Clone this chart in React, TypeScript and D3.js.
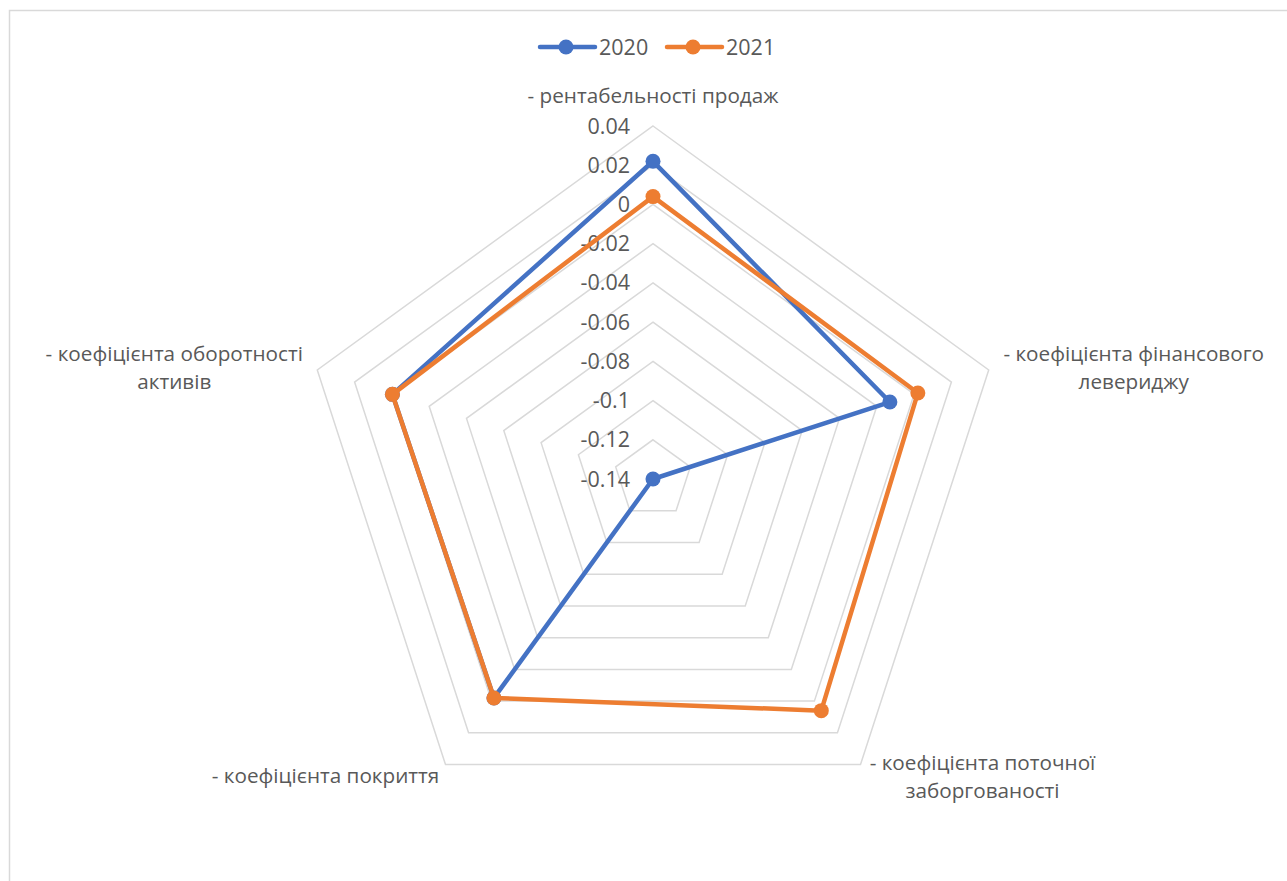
import React from "react";
import * as d3 from "d3";

// Axis categories (each may wrap onto two lines)
const categories: string[][] = [
  ["- рентабельності продаж"],
  ["- коефіцієнта фінансового", "левериджу"],
  ["- коефіцієнта поточної", "заборгованості"],
  ["- коефіцієнта покриття"],
  ["- коефіцієнта оборотності", "активів"],
];

const series2020: number[] = [0.022, -0.013, -0.14, -0.002, -0.0003];
const series2021: number[] = [0.004, 0.002, 0.006, -0.002, -0.0003];

const tickValues: number[] = [-0.14, -0.12, -0.1, -0.08, -0.06, -0.04, -0.02, 0, 0.02, 0.04];

const seriesList = [
  { name: "2020", values: series2020, color: "#4472C4" },
  { name: "2021", values: series2021, color: "#ED7D31" },
];

const W = 1287;
const H = 881;
const cx = 653;
const cy = 479;
const R = 353;
const FONT = "'Open Sans', 'Noto Sans', sans-serif";
const TEXT = "#595959";
const GRID = "#D9D9D9";

// Label offsets relative to each outer vertex: [dx, dy of first line]
const labelOffsets: [number, number][] = [
  [0, -30],
  [145, -16],
  [122, -2],
  [-120, 11],
  [-143, -16],
];

// Tick text with a plain hyphen for negatives
const tickText = (t: number) => String(+t.toFixed(2));

export default function App() {
  const n = categories.length;
  const r = d3.scaleLinear().domain([-0.14, 0.04]).range([0, R]);
  const angle = (i: number) => (i * 2 * Math.PI) / n;
  const pt = (i: number, rad: number): [number, number] => [
    cx + rad * Math.sin(angle(i)),
    cy - rad * Math.cos(angle(i)),
  ];

  const radial = d3
    .lineRadial<number>()
    .angle((_, i) => angle(i))
    .radius((v) => r(v))
    .curve(d3.curveLinearClosed);

  const ringTicks = tickValues.filter((t) => t > -0.14);
  const ring = (t: number) =>
    d3.range(n).map((i) => pt(i, r(t)).join(",")).join(" ");

  return (
    <svg width={W} height={H} style={{ display: "block", position: "absolute", left: 0, top: 0 }}>
      <rect x={0} y={0} width={W} height={H} fill="#fff" />
      <rect x={9.5} y={10.5} width={W + 20} height={H + 20} fill="none" stroke={GRID} strokeWidth={1.5} />

      {/* grid rings */}
      {ringTicks.map((t) => (
        <polygon key={t} points={ring(t)} fill="none" stroke={GRID} strokeWidth={1.5} />
      ))}

      {/* tick labels */}
      {tickValues.map((t) => (
        <text
          key={"t" + t}
          x={630}
          y={cy - r(t)}
          dy="0.35em"
          textAnchor="end"
          fontFamily={FONT}
          fontSize={21.5}
          fill={TEXT}
        >
          {tickText(t)}
        </text>
      ))}

      {/* category labels */}
      {categories.map((lines, i) => {
        const [vx, vy] = pt(i, R);
        const [ox, oy] = labelOffsets[i];
        return (
          <text
            key={"c" + i}
            x={vx + ox}
            y={vy + oy}
            textAnchor="middle"
            fontFamily={FONT}
            fontSize={20.7}
            fill={TEXT}
          >
            {lines.map((l, j) => (
              <tspan key={j} x={vx + ox} dy={j === 0 ? "0.35em" : 28}>
                {l}
              </tspan>
            ))}
          </text>
        );
      })}

      {/* series */}
      {seriesList.map((s) => (
        <g key={s.name} transform={`translate(${cx},${cy})`}>
          <path d={radial(s.values) || ""} fill="none" stroke={s.color} strokeWidth={4.5} strokeLinejoin="round" />
          {s.values.map((v, i) => {
            const [x, y] = pt(i, r(v));
            return <circle key={i} cx={x - cx} cy={y - cy} r={7.5} fill={s.color} />;
          })}
        </g>
      ))}

      {/* legend */}
      {seriesList.map((s, k) => {
        const x0 = 540 + k * 127;
        return (
          <g key={"l" + s.name}>
            <line x1={x0} x2={x0 + 55} y1={47} y2={47} stroke={s.color} strokeWidth={4.5} strokeLinecap="round" />
            <circle cx={x0 + 26} cy={47} r={7.5} fill={s.color} />
            <text x={x0 + 59} y={47} dy="0.35em" fontFamily={FONT} fontSize={21.5} fill={TEXT}>
              {s.name}
            </text>
          </g>
        );
      })}
    </svg>
  );
}
